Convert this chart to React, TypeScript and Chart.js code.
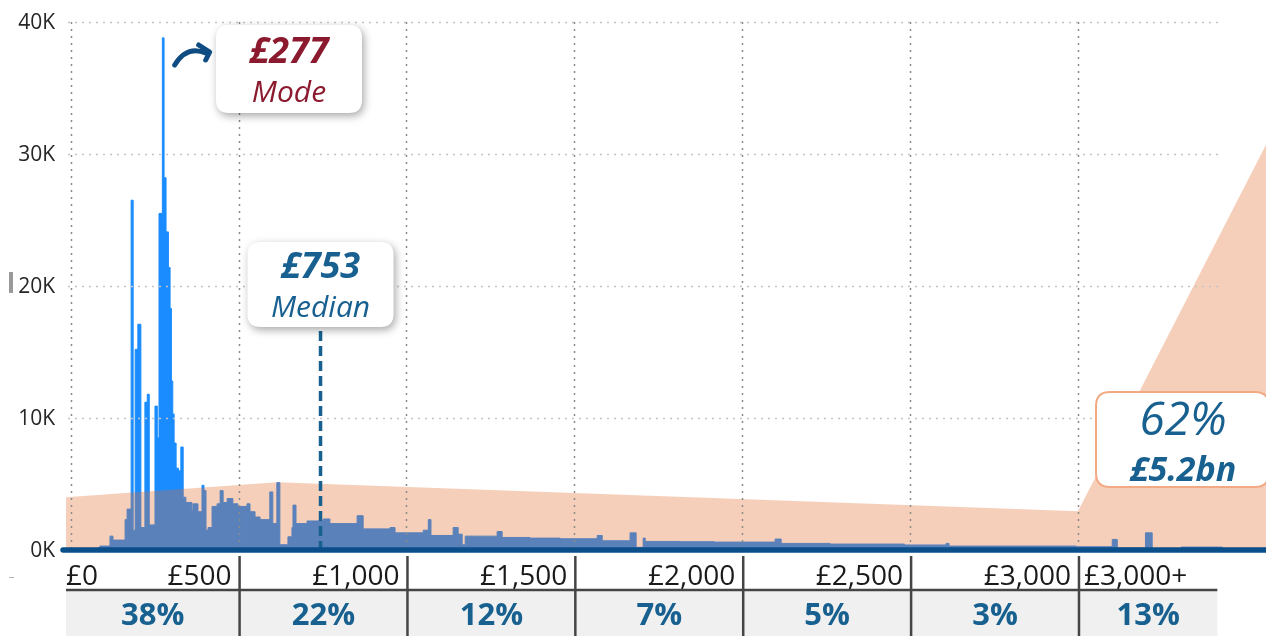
import React, { useEffect, useRef } from 'react';
import { Chart, registerables } from 'chart.js';

Chart.register(...registerables);

// ---- Data ----
// Histogram: left edge of each bin (£) and the count of that bin
const histEdges = [0, 78, 87, 117, 126, 162, 168, 180, 186, 192, 200, 209, 221, 228, 234, 251, 258, 263, 273, 278, 284, 291, 296, 300, 304, 308, 314, 321, 328, 335, 343, 361, 364, 379, 391, 397, 403, 409, 421, 436, 445, 454, 466, 483, 498, 525, 534, 549, 564, 593, 602, 614, 623, 647, 659, 662, 671, 704, 752, 772, 853, 871, 951, 966, 1050, 1065, 1073, 1139, 1154, 1166, 1175, 1270, 1285, 1368, 1458, 1568, 1583, 1666, 1684, 1705, 1711, 1815, 1916, 2098, 2116, 2262, 2483, 2607, 2616, 2995, 3102, 3117, 3201, 3221, 3307, 3430];
const histCounts = [0, 150, 300, 1050, 750, 2300, 3100, 26500, 1500, 15200, 17100, 1700, 11200, 11800, 1900, 10900, 8500, 25500, 38800, 28200, 24100, 21400, 18300, 12800, 10300, 8100, 6200, 6000, 7800, 4000, 3600, 3000, 3500, 2900, 4900, 4500, 1500, 1700, 3300, 3500, 4500, 3600, 3900, 3500, 3300, 3500, 2900, 2500, 2300, 4400, 2000, 5100, 400, 1000, 1700, 3400, 2000, 2200, 2350, 2000, 2600, 1600, 1700, 1300, 1500, 2300, 1100, 1700, 1200, 400, 1050, 1400, 950, 900, 850, 1100, 700, 1300, 200, 900, 650, 630, 600, 830, 500, 450, 380, 500, 300, 250, 800, 150, 1300, 100, 220, 0];

// Shaded (spend) profile: vertices (£) and level
const spendX = [-14, 615, 3000, 3560];
const spendY = [4000, 5130, 2930, 30700];

const xTickValues = [0, 500, 1000, 1500, 2000, 2500, 3000];
const xTickLabels = ['£0', '£500', '£1,000', '£1,500', '£2,000', '£2,500', '£3,000'];
const lastBandLabel = '£3,000+';
const bandShares = ['38%', '22%', '12%', '7%', '5%', '3%', '13%'];
const yTickValues = [0, 10000, 20000, 30000, 40000];
const yTickLabels = ['0K', '10K', '20K', '30K', '40K'];

const modeValue = 277;
const modeLabel = '£277';
const medianValue = 753;
const medianLabel = '£753';
const topShare = '62%';
const topAmount = '£5.2bn';

const X_MIN = -14;
const X_MAX = 3560;
const PLOT_END = 3430;
const TABLE_END = 3415;

const FONT = '"Open Sans", "Noto Sans", sans-serif';

function roundBox(ctx: CanvasRenderingContext2D, x: number, y: number, w: number, h: number, r: number) {
  ctx.beginPath();
  ctx.moveTo(x + r, y);
  ctx.lineTo(x + w - r, y);
  ctx.quadraticCurveTo(x + w, y, x + w, y + r);
  ctx.lineTo(x + w, y + h - r);
  ctx.quadraticCurveTo(x + w, y + h, x + w - r, y + h);
  ctx.lineTo(x + r, y + h);
  ctx.quadraticCurveTo(x, y + h, x, y + h - r);
  ctx.lineTo(x, y + r);
  ctx.quadraticCurveTo(x, y, x + r, y);
  ctx.closePath();
}

const overlayPlugin = {
  id: 'overlay',
  afterDatasetsDraw(chart: any) {
    const ctx: CanvasRenderingContext2D = chart.ctx;
    const xs = chart.scales.x;
    const ys = chart.scales.y;
    const y0 = ys.getPixelForValue(0);
    const yTop = ys.getPixelForValue(40000);
    const gridLeft = xs.getPixelForValue(X_MIN) + 2;
    const gridRight = xs.getPixelForValue(PLOT_END);
    ctx.save();

    // horizontal dotted grid
    ctx.setLineDash([2, 5]);
    ctx.lineWidth = 1.5;
    ctx.strokeStyle = '#c4c4c4';
    yTickValues.slice(1).forEach((v) => {
      const py = Math.round(ys.getPixelForValue(v)) + 0.5;
      ctx.beginPath();
      ctx.moveTo(gridLeft, py);
      ctx.lineTo(gridRight, py);
      ctx.stroke();
    });
    // vertical dotted grid
    ctx.strokeStyle = '#8a8a8a';
    xTickValues.forEach((v) => {
      const px = Math.round(xs.getPixelForValue(v)) + 0.5;
      ctx.beginPath();
      ctx.moveTo(px, yTop);
      ctx.lineTo(px, y0 - 2);
      ctx.stroke();
    });
    ctx.setLineDash([]);

    // median dashed line
    const mx = xs.getPixelForValue(medianValue) - 3;
    ctx.strokeStyle = '#17608f';
    ctx.lineWidth = 3.5;
    ctx.setLineDash([10, 5]);
    ctx.beginPath();
    ctx.moveTo(mx, 331);
    ctx.lineTo(mx, y0);
    ctx.stroke();
    ctx.setLineDash([]);

    // axis baseline
    ctx.strokeStyle = '#0b4f8a';
    ctx.lineWidth = 5.5;
    ctx.lineCap = 'round';
    ctx.beginPath();
    ctx.moveTo(63, y0);
    ctx.lineTo(1270, y0);
    ctx.stroke();
    ctx.lineCap = 'butt';

    // table
    const tLeft = 66;
    const tRight = xs.getPixelForValue(TABLE_END);
    ctx.fillStyle = '#f0f0f0';
    ctx.fillRect(tLeft, 591, tRight - tLeft, 45);
    ctx.strokeStyle = '#454545';
    ctx.lineWidth = 2.5;
    ctx.beginPath();
    ctx.moveTo(tLeft, 590);
    ctx.lineTo(tRight, 590);
    ctx.stroke();
    const seps = xTickValues.slice(1).map((v) => xs.getPixelForValue(v) + 1);
    seps.forEach((sx) => {
      ctx.beginPath();
      ctx.moveTo(sx, 556);
      ctx.lineTo(sx, 636);
      ctx.stroke();
    });

    // x labels
    ctx.fillStyle = '#1a1a1a';
    ctx.font = `28px ${FONT}`;
    ctx.textBaseline = 'alphabetic';
    ctx.textAlign = 'left';
    ctx.fillText(xTickLabels[0], tLeft, 585);
    ctx.textAlign = 'right';
    for (let i = 1; i < xTickLabels.length; i++) {
      ctx.fillText(xTickLabels[i], seps[i - 1] - 8, 585);
    }
    ctx.textAlign = 'left';
    ctx.fillText(lastBandLabel, seps[seps.length - 1] + 5, 585);

    // band shares
    const bounds = [tLeft, ...seps, tRight];
    ctx.fillStyle = '#17608f';
    ctx.font = `bold 31px ${FONT}`;
    ctx.textAlign = 'center';
    bandShares.forEach((s, i) => {
      ctx.fillText(s, (bounds[i] + bounds[i + 1]) / 2, 625);
    });

    // y labels
    ctx.fillStyle = '#262626';
    ctx.font = `21px ${FONT}`;
    ctx.textAlign = 'right';
    ctx.textBaseline = 'middle';
    yTickValues.forEach((v, i) => {
      ctx.fillText(yTickLabels[i], 55, ys.getPixelForValue(v) + 1);
    });

    // small artefacts at left
    ctx.fillStyle = '#9a9a9a';
    ctx.fillRect(9, 272, 4, 21);
    ctx.fillStyle = '#b5b5b5';
    ctx.fillRect(9, 577, 5, 1);

    // Mode and median boxes
    const modeX = xs.getPixelForValue(modeValue);
    ctx.save();
    ctx.shadowColor = 'rgba(0,0,0,0.35)';
    ctx.shadowBlur = 8;
    ctx.shadowOffsetX = 2;
    ctx.shadowOffsetY = 3;
    ctx.fillStyle = '#ffffff';
    roundBox(ctx, 216, 25, 146, 88, 13);
    ctx.fill();
    roundBox(ctx, mx - 73, 242, 146, 85, 13);
    ctx.fill();
    ctx.restore();

    ctx.textAlign = 'center';
    ctx.textBaseline = 'alphabetic';
    ctx.fillStyle = '#8b1a2e';
    ctx.font = `italic bold 36px ${FONT}`;
    ctx.fillText(modeLabel, 289, 63);
    ctx.font = `italic 30px ${FONT}`;
    ctx.fillText('Mode', 289, 102);

    ctx.fillStyle = '#17608f';
    ctx.font = `italic bold 36px ${FONT}`;
    ctx.fillText(medianLabel, mx, 278);
    ctx.font = `italic 30px ${FONT}`;
    ctx.fillText('Median', mx, 317);

    // arrow to the mode
    ctx.strokeStyle = '#0f4c81';
    ctx.lineWidth = 5;
    ctx.lineCap = 'round';
    ctx.lineJoin = 'round';
    ctx.beginPath();
    ctx.moveTo(modeX + 11, 65);
    ctx.quadraticCurveTo(modeX + 23, 45, modeX + 42, 53);
    ctx.stroke();
    ctx.beginPath();
    ctx.moveTo(modeX + 35, 45);
    ctx.lineTo(modeX + 46, 52);
    ctx.lineTo(modeX + 42, 60);
    ctx.stroke();

    // right box
    ctx.fillStyle = '#ffffff';
    ctx.strokeStyle = '#f2aa84';
    ctx.lineWidth = 2;
    roundBox(ctx, 1096, 392, 173, 95, 14);
    ctx.fill();
    ctx.stroke();
    ctx.fillStyle = '#17608f';
    ctx.font = `italic 46px ${FONT}`;
    ctx.fillText(topShare, 1183, 435);
    ctx.font = `italic bold 34px ${FONT}`;
    ctx.fillText(topAmount, 1183, 481);

    ctx.restore();
  },
};

export default function App() {
  const ref = useRef<HTMLCanvasElement | null>(null);
  useEffect(() => {
    if (!ref.current) return;
    const chart = new Chart(ref.current, {
      type: 'line',
      data: {
        datasets: [
          {
            label: 'Spend',
            data: spendX.map((x, i) => ({ x, y: spendY[i] })),
            fill: 'origin',
            backgroundColor: 'rgba(227,105,39,0.32)',
            borderColor: 'rgba(0,0,0,0)',
            borderWidth: 1,
            pointRadius: 0,
            tension: 0,
            order: 0,
          },
          {
            label: 'Count',
            data: histEdges.map((x, i) => ({ x, y: histCounts[i] })),
            fill: 'origin',
            stepped: 'before',
            backgroundColor: '#1a8cff',
            borderColor: '#1a8cff',
            borderWidth: 1,
            pointRadius: 0,
            order: 1,
          },
        ],
      },
      options: {
        responsive: false,
        maintainAspectRatio: false,
        devicePixelRatio: 1,
        animation: false,
        events: [],
        layout: { padding: { left: 66, right: 0, top: 22, bottom: 86 } },
        scales: {
          x: { type: 'linear', min: X_MIN, max: X_MAX, display: false },
          y: { type: 'linear', min: 0, max: 40000, display: false },
        },
        plugins: {
          legend: { display: false },
          tooltip: { enabled: false },
        },
      } as any,
      plugins: [overlayPlugin],
    });
    return () => chart.destroy();
  }, []);

  return (
    <div style={{ position: 'fixed', left: 0, top: 0, width: 1266, height: 636, background: '#ffffff' }}>
      <canvas ref={ref} width={1266} height={636} style={{ display: 'block' }} />
    </div>
  );
}
